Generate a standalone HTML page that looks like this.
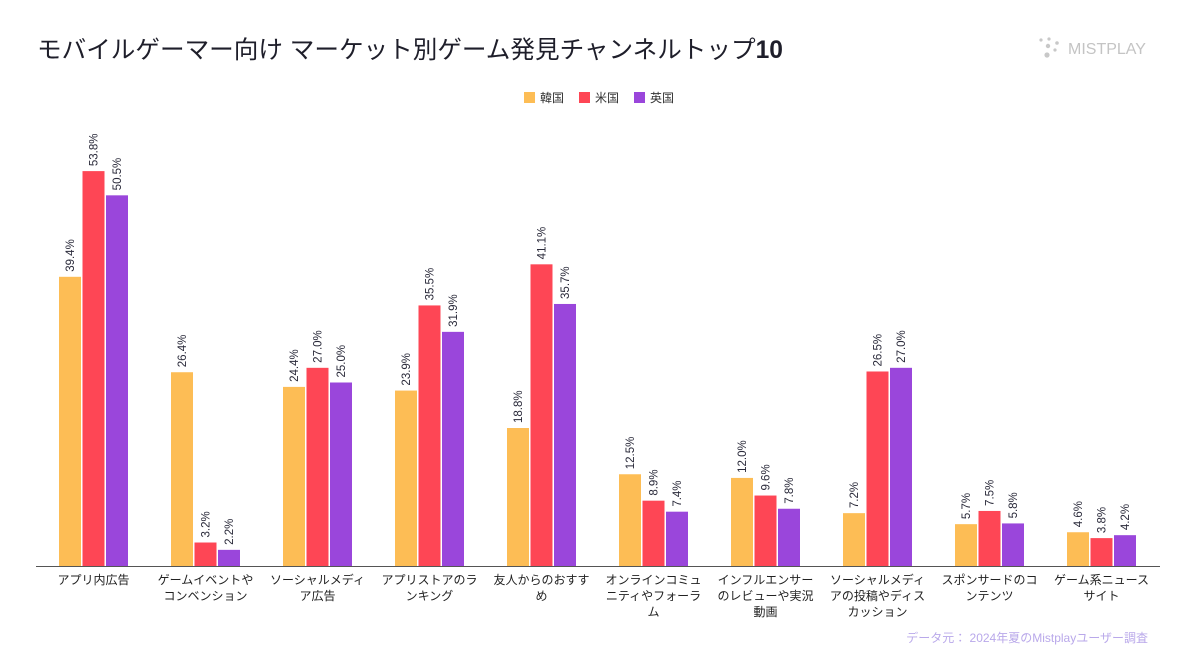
<!DOCTYPE html>
<html><head><meta charset="utf-8"><style>
body{margin:0;background:#fff;font-family:"Liberation Sans","Noto Sans CJK JP",sans-serif;}
#wrap{position:relative;width:1197px;height:670px;overflow:hidden;}
</style></head><body>
<div id="wrap">
<svg id="chart" width="1197" height="670" xmlns="http://www.w3.org/2000/svg">
<text x="37" y="58" font-size="24.6" fill="#1e1e2a" font-family="Liberation Sans, Noto Sans CJK JP, sans-serif">モバイルゲーマー向け マーケット別ゲーム発見チャンネルトップ<tspan font-weight="bold">10</tspan></text>
<g fill="#c8c8c8">
<circle cx="1041" cy="40" r="1.6"/><circle cx="1049" cy="39" r="1.6"/><circle cx="1057" cy="43" r="1.8"/><circle cx="1048" cy="46" r="2.2"/><circle cx="1055" cy="50" r="1.6"/><circle cx="1047" cy="55" r="2.6"/>
<text x="1068" y="54" font-size="16" fill="#c4c4c4" font-family="Liberation Sans, sans-serif">MISTPLAY</text>
</g>
<g font-size="12" fill="#333">
<rect x="524" y="92" width="11" height="11" fill="#fdbd55"/><text x="540" y="102">韓国</text>
<rect x="579" y="92" width="11" height="11" fill="#fe4655"/><text x="595" y="102">米国</text>
<rect x="634" y="92" width="11" height="11" fill="#9a46db"/><text x="650" y="102">英国</text>
</g>
<g id="bars"></g>
<line x1="36" y1="566.5" x2="1160" y2="566.5" stroke="#555" stroke-width="1"/>
<g id="xlabels"></g>
<text x="1148" y="642" text-anchor="end" font-size="12" fill="#b9a8ea">データ元： 2024年夏のMistplayユーザー調査</text>
</svg>
</div>
<script>
const categories=[["アプリ内広告"],["ゲームイベントや","コンベンション"],["ソーシャルメディ","ア広告"],["アプリストアのラ","ンキング"],["友人からのおすす","め"],["オンラインコミュ","ニティやフォーラ","ム"],["インフルエンサー","のレビューや実況","動画"],["ソーシャルメディ","アの投稿やディス","カッション"],["スポンサードのコ","ンテンツ"],["ゲーム系ニュース","サイト"]];
const korea=[39.4,26.4,24.4,23.9,18.8,12.5,12.0,7.2,5.7,4.6];
const us=[53.8,3.2,27.0,35.5,41.1,8.9,9.6,26.5,7.5,3.8];
const uk=[50.5,2.2,25.0,31.9,35.7,7.4,7.8,27.0,5.8,4.2];
const seriesNames=["korea","us","uk"];
const colors=["#fdbd55","#fe4655","#9a46db"];
const NS="http://www.w3.org/2000/svg";
const base=566, scale=7.34;
function y(v){return base-v*scale;}
function cx(i){return 93.5+112*i;}
const bars=document.getElementById('bars'), xl=document.getElementById('xlabels');
[korea,us,uk].forEach((s,si)=>{
 s.forEach((v,i)=>{
  const x=cx(i)-34.5+si*23.5;
  const r=document.createElementNS(NS,'rect');
  r.setAttribute('x',x);r.setAttribute('y',y(v));r.setAttribute('width',22);r.setAttribute('height',base-y(v));r.setAttribute('fill',colors[si]);
  
  
  bars.appendChild(r);
  const t=document.createElementNS(NS,'text');
  const tx=x+15, ty=y(v)-5;
  t.setAttribute('transform','translate('+tx+','+ty+') rotate(-90)');
  t.setAttribute('font-size','11.5');t.setAttribute('fill','#2a2a3a');
  t.textContent=v.toFixed(1)+'%';
  
  
  bars.appendChild(t);
 });
});
categories.forEach((lines,i)=>{
 const t=document.createElementNS(NS,'text');
 t.setAttribute('text-anchor','middle');t.setAttribute('font-size','12');t.setAttribute('fill','#222');
 
 
 lines.forEach((l,j)=>{const ts=document.createElementNS(NS,'tspan');ts.setAttribute('x',cx(i));ts.setAttribute('y',584+j*16);ts.textContent=l;t.appendChild(ts);});
 xl.appendChild(t);
});
</script>
</body></html>
